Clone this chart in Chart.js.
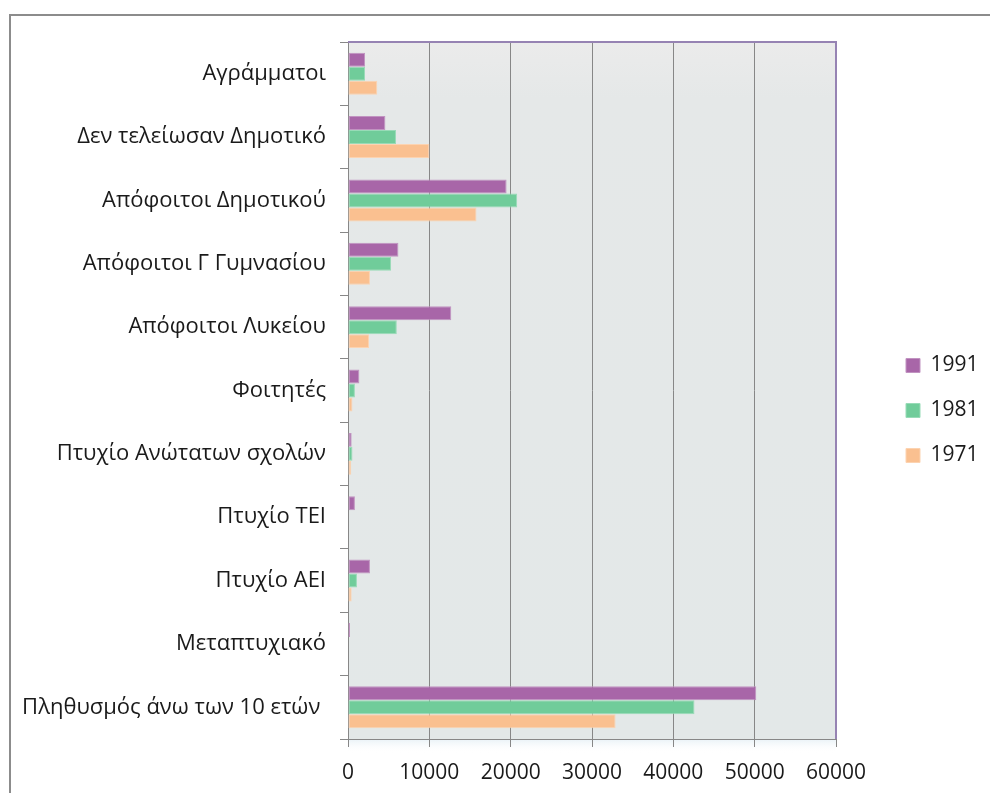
<!DOCTYPE html>
<html lang="el">
<head>
<meta charset="utf-8">
<title>Επίπεδο εκπαίδευσης 1971–1991</title>
<script src="https://cdn.jsdelivr.net/npm/chart.js@4.4.1/dist/chart.umd.min.js"></script>
<style>
  html, body { margin: 0; padding: 0; background: #ffffff; }
  #wrap { position: relative; width: 990px; height: 793px; overflow: hidden; }
  #frame { position: absolute; left: 9px; top: 14px; width: 1000px; height: 800px;
           border: 2px solid #8c8c8c; box-sizing: border-box; }
  #c { position: absolute; left: 0; top: 0; }
</style>
</head>
<body>
<div id="wrap">
  <div id="frame"></div>
  <canvas id="c" width="990" height="793"></canvas>
</div>
<script>
// Education level categories (top to bottom)
const categories = [
  'Αγράμματοι',
  'Δεν τελείωσαν Δημοτικό',
  'Απόφοιτοι Δημοτικού',
  'Απόφοιτοι Γ Γυμνασίου',
  'Απόφοιτοι Λυκείου',
  'Φοιτητές',
  'Πτυχίο Ανώτατων σχολών',
  'Πτυχίο ΤΕΙ',
  'Πτυχίο ΑΕΙ',
  'Μεταπτυχιακό',
  'Πληθυσμός άνω των 10 ετών '
];

const seriesNames = ['1991', '1981', '1971'];

const values1991 = [2100, 4600, 19500, 6200, 12700, 1400, 450, 850, 2700, 250, 50200];
const values1981 = [2100, 5900, 20800, 5300, 6000, 850, 550, 0, 1100, 0, 42600];
const values1971 = [3600, 10000, 15800, 2700, 2600, 550, 400, 0, 450, 0, 32900];

const xTicks = [0, 10000, 20000, 30000, 40000, 50000, 60000];

const FONT = '"Open Sans", "DejaVu Sans", sans-serif';

const colors = ['#A866A8', '#70CC9A', '#FAC090'];
const edges  = ['#C193C1', '#98DBB7', '#FCD3B1'];

// Plot-area fill, shadow band under the axis and the framed top/right edges
const plotDecor = {
  id: 'plotDecor',
  afterLayout(chart) {
    // leave a gap between the plot and the legend column, and lift it slightly
    const lg = chart.legend;
    if (lg) {
      lg.left += 46; lg.right += 46;
      lg.top -= 7; lg.bottom -= 7;
    }
  },
  beforeDraw(chart) {
    const { ctx, chartArea: a } = chart;
    ctx.save();
    const g = ctx.createLinearGradient(0, a.top, 0, a.bottom);
    g.addColorStop(0, '#EBEBEB');
    g.addColorStop(0.08, '#E5E8E8');
    g.addColorStop(1, '#E3E8E8');
    ctx.fillStyle = g;
    ctx.fillRect(a.left, a.top, a.right - a.left, a.bottom - a.top);
    const s = ctx.createLinearGradient(0, a.bottom, 0, a.bottom + 14);
    s.addColorStop(0, 'rgba(214,230,240,0.55)');
    s.addColorStop(1, 'rgba(255,255,255,0)');
    ctx.fillStyle = s;
    ctx.fillRect(a.left, a.bottom, a.right - a.left, 14);
    ctx.restore();
  },
  afterDraw(chart) {
    const { ctx, chartArea: a } = chart;
    ctx.save();
    ctx.strokeStyle = '#9683B3';
    ctx.lineWidth = 2;
    ctx.beginPath();
    ctx.moveTo(a.left, a.top);
    ctx.lineTo(a.right, a.top);
    ctx.lineTo(a.right, a.bottom);
    ctx.stroke();
    ctx.restore();
  }
};

const datasets = [values1991, values1981, values1971].map((vals, i) => ({
  label: seriesNames[i],
  data: vals,
  backgroundColor: colors[i],
  borderColor: edges[i],
  borderWidth: (c) => (c.raw ? 1 : 0),
  borderSkipped: false,
  barPercentage: 1.0,
  categoryPercentage: 0.662
}));

new Chart(document.getElementById('c'), {
  type: 'bar',
  data: { labels: categories, datasets },
  plugins: [plotDecor],
  options: {
    indexAxis: 'y',
    responsive: false,
    animation: false,
    layout: { padding: { top: 42, bottom: 0, left: 0, right: 9 } },
    plugins: {
      tooltip: { enabled: false },
      legend: {
        position: 'right',
        labels: {
          boxWidth: 14,
          boxHeight: 14,
          padding: 24,
          color: '#1a1a1a',
          font: { family: FONT, size: 21 }
        }
      }
    },
    scales: {
      x: {
        min: 0,
        max: 60000,
        afterBuildTicks(scale) { scale.ticks = xTicks.map(v => ({ value: v })); },
        afterFit(scale) { scale.height = 54; scale.paddingRight = 154; },
        grid: { color: '#878787', lineWidth: 1, tickLength: 8, drawTicks: true },
        border: { display: true, color: '#878787', width: 1 },
        ticks: {
          padding: 13,
          color: '#1a1a1a',
          font: { family: FONT, size: 21 },
          maxRotation: 0,
          callback: (v) => String(v)
        }
      },
      y: {
        afterFit(scale) { scale.width = 348; },
        grid: { drawOnChartArea: false, drawTicks: true, tickLength: 8, color: '#878787', offset: true },
        border: { display: true, color: '#878787', width: 1 },
        ticks: {
          padding: 14,
          color: '#1a1a1a',
          font: { family: FONT, size: 22 },
          autoSkip: false
        }
      }
    }
  }
});
</script>
</body>
</html>
